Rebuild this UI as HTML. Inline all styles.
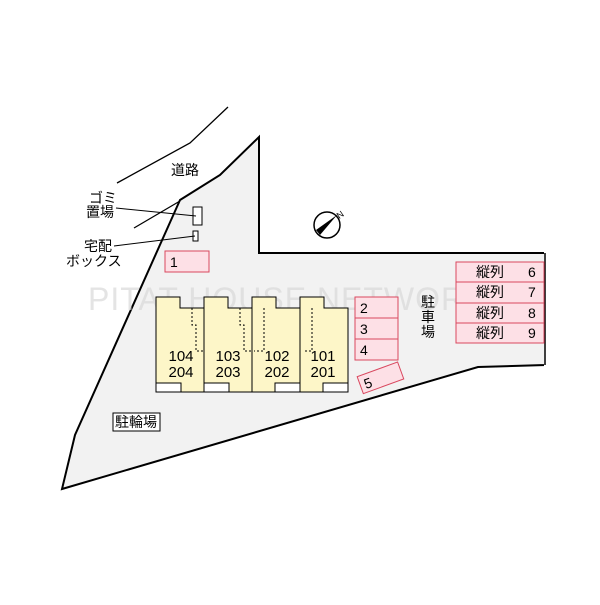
<!DOCTYPE html>
<html><head><meta charset="utf-8"><style>
body{margin:0;background:#fff}
svg text{font-family:"Liberation Sans","Noto Sans CJK JP",sans-serif}
</style></head><body>
<svg width="600" height="600" viewBox="0 0 600 600" xmlns="http://www.w3.org/2000/svg">
<rect width="600" height="600" fill="#fff"/>
<polygon points="180,200 220,175 259,137 259,253 545,253 545,365 478,367 62,489 75,435" fill="#f2f2f2" stroke="#000" stroke-width="2" stroke-linejoin="miter"/>
<rect x="544" y="252" width="4" height="115" fill="#fff"/>
<line x1="545" y1="253" x2="545" y2="365" stroke="#000" stroke-width="1.5"/>
<polyline points="117,183 190,143 228,107" fill="none" stroke="#000" stroke-width="1.3"/>
<line x1="134" y1="228" x2="180" y2="201" stroke="#000" stroke-width="1.3"/>
<text x="171" y="175" font-size="14">道路</text>
<rect x="193" y="207" width="9" height="18" fill="#fff" stroke="#000"/>
<rect x="193" y="231" width="5" height="10" fill="#fff" stroke="#000"/>
<line x1="116" y1="208" x2="196" y2="216" stroke="#000"/>
<line x1="114" y1="246" x2="195" y2="236" stroke="#000"/>
<text x="89" y="203" font-size="14">ゴミ</text>
<text x="86" y="217" font-size="14">置場</text>
<text x="84" y="251" font-size="14">宅配</text>
<text x="66" y="266" font-size="14">ボックス</text>
<rect x="165" y="251" width="44" height="21" fill="#fde0e6" stroke="#d9485f"/>
<text x="170" y="267" font-size="14">1</text>
<circle cx="327" cy="225" r="13" fill="#fff" stroke="#000" stroke-width="1.5"/>
<polygon points="316,230 337,215 320,235" fill="#000"/>
<text x="337" y="218" font-size="9" transform="rotate(-35 340 215)">N</text>
<text x="88" y="310" font-size="32" fill="#d8d8d8" fill-opacity="0.7" letter-spacing="1">PITAT HOUSE NETWORK</text>
<g stroke="#000" stroke-width="1" fill="#fdf6c8">
<polygon points="156,297 180,297 180,308 204,308 204,392 156,392"/>
<polygon points="204,297 228,297 228,308 252,308 252,392 204,392"/>
<polygon points="252,297 276,297 276,308 300,308 300,392 252,392"/>
<polygon points="300,297 324,297 324,308 348,308 348,392 300,392"/>
</g>
<g stroke="#000" fill="#fff">
<rect x="156" y="383" width="25" height="9"/>
<rect x="204" y="383" width="25" height="9"/>
<rect x="275" y="383" width="25" height="9"/>
<rect x="323" y="383" width="25" height="9"/>
</g>
<g stroke="#000" stroke-dasharray="2,2" fill="none">
<polyline points="192,308 192,325 196,325 196,351 205,351"/>
<polyline points="240,308 240,325 244,325 244,351 253,351"/>
<polyline points="264,308 264,325 264,351 254,351"/>
<polyline points="312,308 312,325 312,351 303,351"/>
</g>
<g font-size="15" text-anchor="middle">
<text x="181" y="361">104</text><text x="181" y="377">204</text>
<text x="228" y="361">103</text><text x="228" y="377">203</text>
<text x="277" y="361">102</text><text x="277" y="377">202</text>
<text x="323" y="361">101</text><text x="323" y="377">201</text>
</g>
<g fill="#fde0e6" stroke="#d9485f">
<rect x="355" y="297" width="43" height="21"/>
<rect x="355" y="318" width="43" height="21"/>
<rect x="355" y="339" width="43" height="21"/>
<rect x="359" y="369" width="43" height="18" transform="rotate(-20 380 378)"/>
</g>
<g font-size="14">
<text x="360" y="313">2</text><text x="360" y="334">3</text><text x="360" y="355">4</text>
<text x="364" y="388" transform="rotate(-20 368 383)">5</text>
</g>
<g fill="#fde0e6" stroke="#d9485f">
<rect x="456" y="262" width="88" height="20"/>
<rect x="456" y="282" width="88" height="21"/>
<rect x="456" y="303" width="88" height="20"/>
<rect x="456" y="323" width="88" height="20"/>
</g>
<g font-size="14">
<text x="476" y="277">縦列</text><text x="528" y="277">6</text>
<text x="476" y="297">縦列</text><text x="528" y="297">7</text>
<text x="476" y="318">縦列</text><text x="528" y="318">8</text>
<text x="476" y="338">縦列</text><text x="528" y="338">9</text>
</g>
<g font-size="14"><text x="421" y="307">駐</text><text x="421" y="322">車</text><text x="421" y="337">場</text></g>
<rect x="113" y="413" width="47" height="18" fill="#fff" stroke="#000"/>
<text x="115" y="427" font-size="14">駐輪場</text>
</svg>
</body></html>
